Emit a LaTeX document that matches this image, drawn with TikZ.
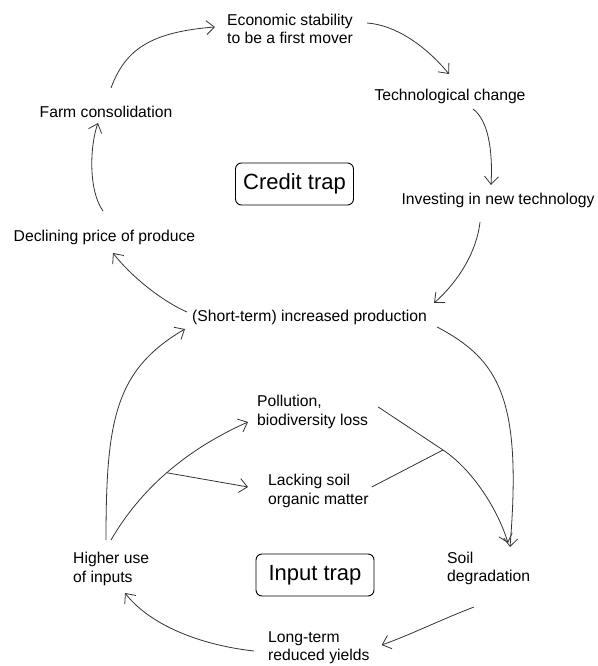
\documentclass[tikz,border=0pt]{standalone}
\usepackage{fontspec}
\setsansfont{Liberation Sans}
\usetikzlibrary{arrows.meta}

\begin{document}
\begin{tikzpicture}[x=1pt, y=-1pt, font=\sffamily\fontsize{15.7}{18.5}\selectfont,
    every node/.style={inner sep=0pt},
    lbl/.style={align=center},
    lbll/.style={align=left, anchor=west},
    trapbox/.style={draw, rounded corners=6pt, line width=0.9pt, minimum width=118pt, minimum height=42pt, font=\sffamily\fontsize{22}{26}\selectfont},
    arrow/.style={-{Straight Barb[length=8pt, width=14pt]}, line width=0.8pt, black!80},
    link/.style={line width=0.8pt, black!80},
]

\useasboundingbox (0,0) rectangle (597,666);

% credit trap loop
\node[lbl] (econ) at (290,29) {Economic stability\\to be a first mover};
\node (tech) at (450,96) {Technological change};
\node (invest) at (498,200) {Investing in new technology};
\node (farm) at (106,112) {Farm consolidation};
\node (decline) at (104.5,237) {Declining price of produce};
\node (short) at (309.5,317) {(Short-term) increased production};
\node[trapbox] (credit) at (294.5,184) {Credit trap};

% input trap loop
\node[lbll] (pollution) at (257,412) {Pollution,\\biodiversity loss};
\node[lbll] (lacking) at (268,491) {Lacking soil\\organic matter};
\node[lbll] (higher) at (73,569) {Higher use\\of inputs};
\node[trapbox] (input) at (315,575) {Input trap};
\node[lbll] (soil) at (447,568.5) {Soil\\degradation};
\node[lbll] (longterm) at (268,647.5) {Long-term\\reduced yields};

\coordinate (merge) at (443,450);

\draw[arrow] ([shift={(5,-24)}]farm.center) .. controls (125,50) and (150,32) .. ([shift={(-12,-2)}]econ.west);
\draw[arrow] ([shift={(14,-6)}]econ.east) .. controls (395,25) and (425,45) .. ([shift={(-1,-22)}]tech.center);
\draw[arrow] ([shift={(23,13)}]tech.center) .. controls (488,120) and (493,150) .. ([shift={(-7,-15)}]invest.center);
\draw[arrow] ([shift={(-18,22)}]invest.center) .. controls (477,250) and (460,280) .. ([shift={(7,-14)}]short.east);
\draw[arrow] ([shift={(-5,-5)}]short.west) .. controls (160,300) and (130,275) .. ([shift={(8.5,16)}]decline.center);
\draw[arrow] ([shift={(-1.5,-26)}]decline.center) .. controls (88,190) and (90,145) .. ([shift={(-8,11)}]farm.center);

\draw[arrow] ([shift={(10,10)}]short.east) .. controls (500,360) and (522,400) .. ([shift={(63,-21.5)}]soil.west);
\draw[arrow] ([shift={(33,-29)}]higher.west) .. controls (106,420) and (115,370) .. ([shift={(-7,12)}]short.west);
\draw[arrow] ([shift={(38,-29)}]higher.west) .. controls (140,490) and (185,450) .. coordinate[pos=0.5] (fork) ([shift={(-9,10)}]pollution.west);
\draw[arrow] (fork) -- ([shift={(-20,-4)}]lacking.west);
\draw[arrow] ([shift={(10,-5)}]pollution.east) -- (merge) .. controls (473,470) and (498,510) .. ([shift={(61,-25.5)}]soil.west);
\draw[link] ([shift={(3,-4)}]lacking.east) -- (merge);
\draw[arrow] ([shift={(27,38.5)}]soil.west) .. controls (440,620) and (410,635) .. ([shift={(12,-2.5)}]longterm.east);
\draw[arrow] ([shift={(-14,3.5)}]longterm.west) .. controls (200,645) and (150,625) .. ([shift={(52,24)}]higher.west);

\end{tikzpicture}
\end{document}
